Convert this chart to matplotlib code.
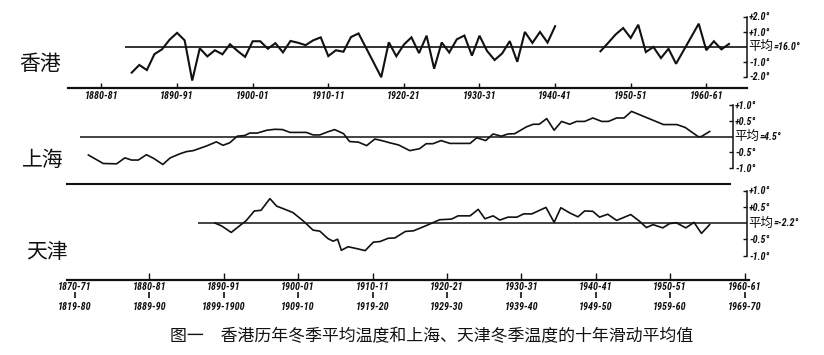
import matplotlib
matplotlib.use('Agg')
import matplotlib.pyplot as plt
from matplotlib import font_manager
from matplotlib.font_manager import FontProperties

# ---------------- data ----------------
hk_years1 = list(range(1884, 1941))
hk_vals1 = [-1.74, -1.23, -1.57, -0.51, -0.19, 0.45, 0.91, 0.41, -2.27, -0.12,
            -0.66, -0.25, -0.52, 0.15, -0.30, -0.69, 0.35, 0.35, -0.15, 0.22,
            -0.39, 0.37, 0.25, 0.09, 0.41, 0.61, -0.64, -0.25, -0.35, 0.63,
            0.87, -0.10, -1.07, -2.05, 0.28, -0.65, 0.13, 0.61, -0.44, 0.72,
            -1.48, 0.27, -0.40, 0.48, 0.73, -0.61, 0.72, -0.30, -0.90, -0.46,
            0.36, -1.02, 0.97, 0.24, 0.97, 0.26, 1.35]
hk_years2 = list(range(1946, 1964))
hk_vals2 = [-0.32, 0.23, 0.80, 1.23, 0.57, 1.45, -0.37, -0.03, -0.77, -0.15,
            -1.15, -0.26, 0.63, 1.52, -0.25, 0.35, -0.19, 0.17]

sh_years = [1871.8, 1873.8, 1875.6, 1876.7, 1877.6, 1878.5, 1879.6, 1880.6, 1881.8, 1882.8,
            1884.1, 1885.0, 1885.9, 1887.7, 1889.0, 1889.9, 1890.8, 1891.8, 1892.8, 1893.5,
            1894.5, 1895.8, 1896.9, 1897.9, 1898.9, 1900.2, 1901.1, 1902.0, 1902.9, 1904.0,
            1904.9, 1906.1, 1906.9, 1908.1, 1909.2, 1910.3, 1911.4, 1912.3, 1913.5, 1915.0,
            1916.3, 1917.2, 1918.1, 1919.2, 1920.4, 1923.1, 1924.0, 1925.2, 1926.2, 1927.3,
            1928.2, 1929.1, 1930.7, 1931.6, 1932.4, 1933.4, 1934.4, 1935.4, 1936.5, 1937.4,
            1938.5, 1939.6, 1940.8, 1941.7, 1942.8, 1943.8, 1944.8, 1949.1, 1950.9, 1952.0,
            1953.8, 1954.2, 1955.3]
sh_vals = [-0.59, -0.86, -0.87, -0.68, -0.75, -0.75, -0.58, -0.70, -0.89, -0.68,
           -0.55, -0.48, -0.45, -0.30, -0.17, -0.28, -0.20, 0.01, 0.03, 0.11,
           0.11, 0.20, 0.23, 0.22, 0.13, 0.13, 0.13, 0.05, 0.05, 0.15,
           0.22, 0.09, -0.16, -0.18, -0.29, -0.08, -0.14, -0.20, -0.27, -0.45,
           -0.39, -0.23, -0.23, -0.13, -0.22, -0.22, -0.04, -0.13, 0.08, 0.01,
           0.08, 0.09, 0.31, 0.39, 0.39, 0.57, 0.20, 0.48, 0.39, 0.48,
           0.48, 0.59, 0.48, 0.48, 0.59, 0.59, 0.80, 0.38, 0.38, 0.29,
           -0.01, 0.00, 0.16]

tj_years = [1888.8, 1889.7, 1891.0, 1892.1, 1893.0, 1894.1, 1895.0, 1896.2, 1897.1, 1898.0,
            1899.3, 1900.7, 1902.0, 1902.9, 1904.0, 1904.7, 1905.3, 1905.8, 1906.7, 1907.9,
            1909.0, 1910.1, 1911.0, 1912.1, 1913.0, 1914.4, 1915.5, 1917.0, 1919.0, 1920.6,
            1921.5, 1923.1, 1924.2, 1925.1, 1926.2, 1927.1, 1928.2, 1929.4, 1930.3, 1931.4,
            1933.3, 1934.4, 1935.3, 1936.5, 1937.6, 1938.5, 1939.6, 1940.5, 1941.6, 1942.8,
            1944.7, 1945.9, 1946.8, 1947.7, 1949.0, 1949.9, 1950.8, 1952.1, 1953.2, 1954.2,
            1955.3]
tj_vals = [0.0, -0.09, -0.29, -0.09, 0.07, 0.37, 0.39, 0.75, 0.52, 0.44,
           0.32, 0.06, -0.22, -0.25, -0.48, -0.56, -0.50, -0.84, -0.73, -0.79,
           -0.85, -0.59, -0.57, -0.47, -0.46, -0.26, -0.24, -0.10, 0.10, 0.12,
           0.22, 0.22, 0.42, 0.13, 0.22, 0.09, 0.18, 0.18, 0.28, 0.28,
           0.48, 0.02, 0.47, 0.31, 0.19, 0.37, 0.36, 0.18, 0.27, 0.08,
           0.26, 0.05, -0.14, -0.05, -0.15, -0.02, 0.01, -0.15, 0.02, -0.32,
           -0.05]

decades = [1870, 1880, 1890, 1900, 1910, 1920, 1930, 1940, 1950, 1960]
hk_ticks = decades[1:]
hk_ticklabels = ['1880-81', '1890-91', '1900-01', '1910-11', '1920-21',
                 '1930-31', '1940-41', '1950-51', '1960-61']
upper_labels = ['1870-71', '1880-81', '1890-91', '1900-01', '1910-11',
                '1920-21', '1930-31', '1940-41', '1950-51', '1960-61']
lower_labels = ['1819-80', '1889-90', '1899-1900', '1909-10', '1919-20',
                '1929-30', '1939-40', '1949-50', '1959-60', '1969-70']

hk_yticks = [-2, -1, 1, 2]
hk_yticklabels = ['-2.0°', '-1.0°', '+1.0°', '+2.0°']
ms_yticks = [-1, -0.5, 0.5, 1]
ms_yticklabels = ['-1.0°', '-0.5°', '+0.5°', '+1.0°']
means = {'hk': '=16.0°', 'sh': '=4.5°', 'tj': '=-2.2°'}
names = ['香港', '上海', '天津']
caption = '图一　香港历年冬季平均温度和上海、天津冬季温度的十年滑动平均值'

# ---------------- fonts ----------------
def has_font(name):
    try:
        font_manager.findfont(FontProperties(family=name), fallback_to_default=False)
        return True
    except Exception:
        return False

NUM_FAMILY = 'DejaVu Sans'
for cand in ['Liberation Sans Narrow', 'DejaVu Sans Condensed', 'Roboto Condensed',
             'Liberation Sans']:
    if has_font(cand):
        NUM_FAMILY = cand
        break
NUM_SIZE = 7.3
num_font = dict(family=NUM_FAMILY, style='italic', weight='bold', size=NUM_SIZE)
CJK = 'Noto Sans CJK SC'

# ---------------- layout ----------------
W, H = 824, 355
fig = plt.figure(figsize=(W / 100, H / 100), dpi=100)
fig.patch.set_facecolor('white')
INK = '#111111'


def add_axes_px(x0, y0, x1, y1):
    return fig.add_axes([x0 / W, 1 - y1 / H, (x1 - x0) / W, (y1 - y0) / H])


def yr_hk(px):
    return 1880 + (px - 101.5) / 7.56


def yr_b(px):
    return 1870 + (px - 75) / 7.44


def style_axes(ax):
    ax.set_facecolor('none')
    for s in ['top', 'left']:
        ax.spines[s].set_visible(False)
    for s in ['bottom', 'right']:
        ax.spines[s].set_color(INK)


def right_scale(ax, ticks, labels, lim, mean_text):
    ax.set_yticks(ticks)
    ax.set_yticklabels(labels)
    ax.tick_params(axis='y', which='both', left=False, labelleft=False,
                   right=True, labelright=True,
                   direction='in', length=3, width=1.0, pad=1.5, colors=INK)
    for t in ax.yaxis.get_major_ticks():
        t.label2.set_fontfamily(NUM_FAMILY)
        t.label2.set_fontstyle('italic')
        t.label2.set_fontweight('bold')
        t.label2.set_fontsize(NUM_SIZE)
    ax.spines['right'].set_bounds(-lim, lim)
    ax.spines['right'].set_linewidth(1.1)
    ax.annotate('平均', xy=(1, 0), xycoords=('axes fraction', 'data'),
                xytext=(1.0, 0), textcoords='offset points', ha='left', va='center',
                family=[CJK, 'DejaVu Sans'], fontsize=9, color=INK)
    ax.annotate(mean_text, xy=(1, 0), xycoords=('axes fraction', 'data'),
                xytext=(19.5, 0), textcoords='offset points', ha='left', va='center',
                color=INK, **num_font)


# Hong Kong
hk = add_axes_px(60, 5, 747, 88)
style_axes(hk)
hk.set_xlim(yr_hk(60), yr_hk(747))
hk.set_ylim((46.5 - 88) / 15, (46.5 - 5) / 15)
hk.plot(hk_years1, hk_vals1, color=INK, lw=1.5, solid_joinstyle='miter')
hk.plot(hk_years2, hk_vals2, color=INK, lw=1.5, solid_joinstyle='miter')
hk.hlines(0, yr_hk(125), yr_hk(747), color=INK, lw=1.2)
hk.spines['bottom'].set_bounds(yr_hk(68), yr_hk(747))
hk.spines['bottom'].set_linewidth(1.6)
hk.set_xticks(hk_ticks)
hk.set_xticklabels(hk_ticklabels, **num_font)
hk.tick_params(axis='x', direction='in', length=3.5, width=1.0, pad=2.0, colors=INK)
right_scale(hk, hk_yticks, hk_yticklabels, 2, means['hk'])

# Shanghai
sh = add_axes_px(60, 96, 733, 184)
style_axes(sh)
sh.set_xlim(yr_b(60), yr_b(733))
sh.set_ylim((136.5 - 184) / 31.4, (136.5 - 96) / 31.4)
sh.plot(sh_years, sh_vals, color=INK, lw=1.2)
sh.hlines(0, yr_b(80), yr_b(733), color=INK, lw=1.1)
sh.spines['bottom'].set_bounds(yr_b(67), yr_b(730))
sh.spines['bottom'].set_linewidth(1.5)
sh.tick_params(axis='x', bottom=False, labelbottom=False)
right_scale(sh, ms_yticks, ms_yticklabels, 1, means['sh'])

# Tianjin
tj = add_axes_px(60, 186, 747, 280)
style_axes(tj)
tj.set_xlim(yr_b(60), yr_b(747))
tj.set_ylim((223 - 280) / 32.5, (223 - 186) / 32.5)
tj.plot(tj_years, tj_vals, color=INK, lw=1.2)
tj.hlines(0, yr_b(198), yr_b(747), color=INK, lw=1.1)
tj.spines['bottom'].set_bounds(yr_b(67), yr_b(749))
tj.spines['bottom'].set_linewidth(1.6)
tj.set_xticks(decades)
tj.set_xticklabels(upper_labels, **num_font)
tj.tick_params(axis='x', direction='in', length=5, width=1.0, pad=1.2, colors=INK)
tj.xaxis.get_major_ticks()[0].tick1line.set_visible(False)
right_scale(tj, ms_yticks, ms_yticklabels, 1, means['tj'])

sec = tj.secondary_xaxis((280 - 292) / 94)
sec.spines['bottom'].set_visible(False)
sec.set_xticks(decades)
sec.set_xticklabels(lower_labels, **num_font)
sec.tick_params(axis='x', direction='out', length=4, width=1.2, pad=3.0, colors=INK)

# station names
for name, (cx, cy) in zip(names, [(40, 64), (43, 160), (47, 252)]):
    fig.text(cx / W, 1 - cy / H, name, ha='center', va='center',
             family=[CJK, 'DejaVu Sans'], fontsize=15, color=INK)

# caption
fig.text(432 / W, 1 - 336 / H, caption, ha='center', va='center',
         family=[CJK, 'DejaVu Sans'], fontsize=12.2, color=INK)

fig.savefig('out.png', dpi=100, facecolor='white')
